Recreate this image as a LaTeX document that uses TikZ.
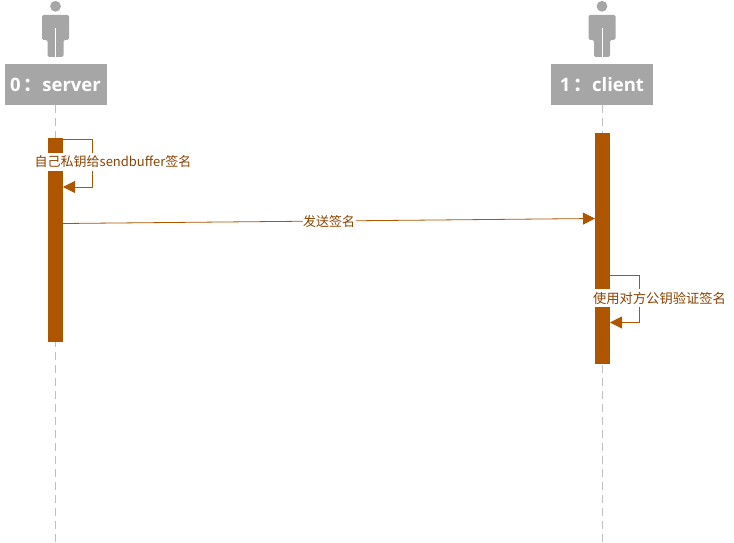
\documentclass[tikz,border=0pt]{standalone}
\usepackage{fontspec}
\setmainfont{Noto Sans CJK SC}
\newfontfamily\headfont{Open Sans}
\usepackage{xcolor}
\usetikzlibrary{positioning}
\usetikzlibrary{arrows.meta}
\definecolor{headgray}{HTML}{A6A6A6}
\definecolor{linegray}{HTML}{BFBFBF}
\definecolor{barbrown}{HTML}{AE5500}
\definecolor{textbrown}{HTML}{8A4300}
\tikzset{
  lifehead/.style={fill=headgray,text=white,minimum width=102pt,minimum height=41pt,inner sep=0pt,font=\fontsize{18.5}{19}\selectfont\bfseries},
  lifeline/.style={draw=linegray,line width=1pt,dash pattern=on 8pt off 5pt},
  actbar/.style={fill=barbrown,minimum width=15pt,inner sep=0pt,anchor=north},
  msgline/.style={draw=barbrown,line width=0.8pt,-{Triangle[length=12pt,width=12pt]}},
  msglabel/.style={fill=white,text=textbrown,inner sep=0.5pt,minimum height=18pt,font=\fontsize{13}{13}\selectfont},
  actor/.pic={
    \fill[headgray] (0,-57.5) circle (5.4);
    \fill[headgray,rounded corners=1.5pt] (-13.5,-49) -- (13.5,-49) -- (13.5,-24) -- (8,-24) -- (8,-7) -- (-8,-7) -- (-8,-24) -- (-13.5,-24) -- cycle;
    \draw[white,line width=1pt] (0,-7) -- (0,-36);
  }
}
\begin{document}
\begin{tikzpicture}[x=1pt,y=-1pt,node distance=546.5pt,on grid]
   \useasboundingbox (0,0) rectangle (734,543);
   \node[lifehead] (server) at (55.5,84.5) {\headfont 0\,{\rmfamily ：}server};
   \node[lifehead] (client) [right=of server] {\headfont 1\,{\rmfamily ：}client};
   \pic at (server.north) {actor};
   \pic at (client.north) {actor};
   \coordinate (serverend) at (55.5,543);
   \coordinate (clientend) at (602,543);
   \draw[lifeline] (server.south) -- (serverend);
   \draw[lifeline] (client.south) -- (clientend);
   % activation bars
   \node[actbar,minimum height=204pt] (serverbar) at (55.5,138) {};
   \node[actbar,minimum height=231pt] (clientbar) at (602,133) {};
   % self message on server
   \coordinate (signfrom) at (63,139);
   \coordinate (signto) at (63,187);
   \draw[msgline] (signfrom) -- (92.5,139) -- (92.5,187) -- (signto);
   \node[msglabel] (signlabel) at (113,162) {自己私钥给sendbuffer签名};
   % message to client
   \coordinate (sendfrom) at (63,223.5);
   \coordinate (sendto) at (595,218.5);
   \draw[msgline] (sendfrom) -- (sendto);
   \node[msglabel] (sendlabel) at (329,222) {发送签名};
   % self message on client
   \coordinate (verifyfrom) at (610,275);
   \coordinate (verifyto) at (610,322.5);
   \draw[msgline] (verifyfrom) -- (639.5,275) -- (639.5,322.5) -- (verifyto);
   \node[msglabel,font=\fontsize{13.3}{13}\selectfont] (verifylabel) at (659.5,298) {使用对方公钥验证签名};
\end{tikzpicture}
\end{document}
